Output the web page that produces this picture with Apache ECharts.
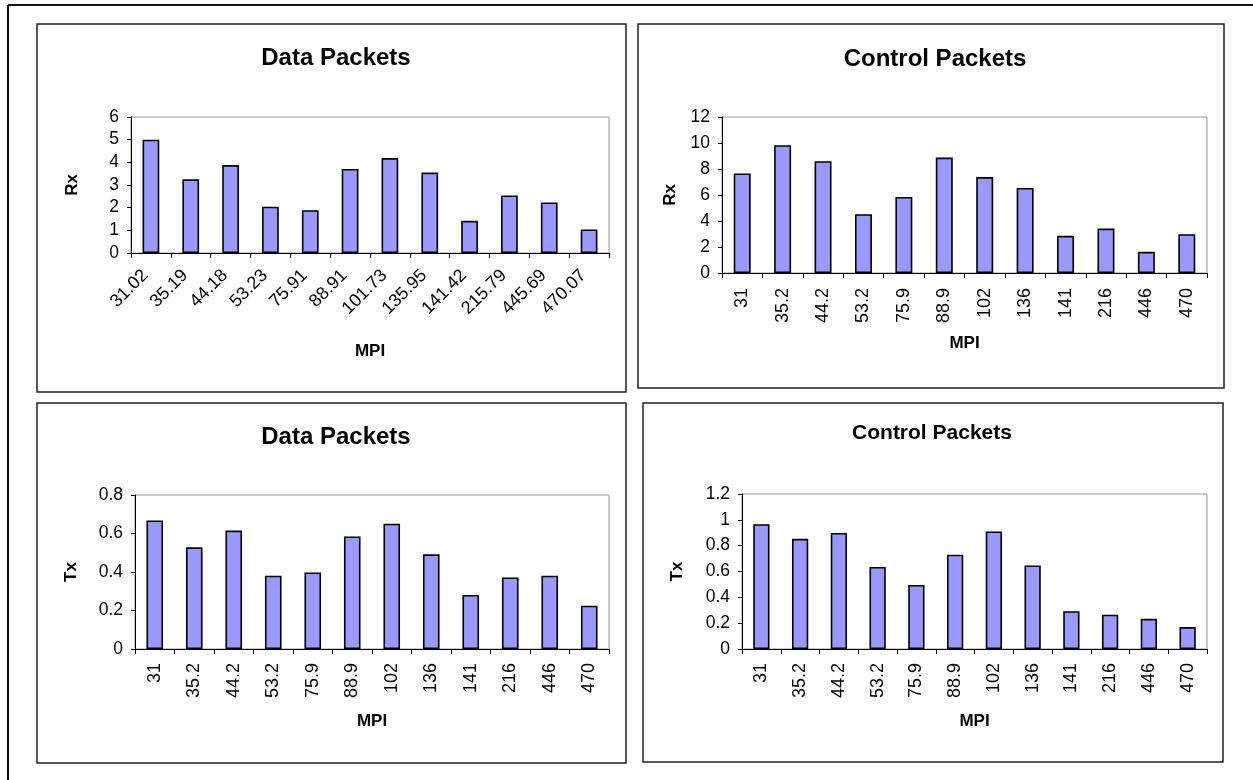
<!DOCTYPE html>
<html>
<head>
<meta charset="utf-8">
<title>Data and Control Packets vs MPI</title>
<script src="https://cdn.jsdelivr.net/npm/echarts@6/dist/echarts.min.js"></script>
<style>
  html, body { margin: 0; padding: 0; background: #ffffff; }
  #chart { width: 1253px; height: 780px; }
</style>
</head>
<body>
<div id="chart"></div>
<script>
// MPI categories: full precision on the Rx data chart, rounded elsewhere
const mpiFull  = ['31.02', '35.19', '44.18', '53.23', '75.91', '88.91', '101.73', '135.95', '141.42', '215.79', '445.69', '470.07'];
const mpiShort = ['31', '35.2', '44.2', '53.2', '75.9', '88.9', '102', '136', '141', '216', '446', '470'];

// Received (Rx) and transmitted (Tx) packets per MPI value
const dataRx    = [5.0, 3.25, 3.88, 2.04, 1.89, 3.71, 4.19, 3.55, 1.42, 2.54, 2.23, 1.04];
const controlRx = [7.66, 9.83, 8.60, 4.52, 5.85, 8.88, 7.38, 6.54, 2.86, 3.42, 1.63, 2.99];
const dataTx    = [0.668, 0.528, 0.615, 0.381, 0.398, 0.585, 0.651, 0.492, 0.281, 0.372, 0.381, 0.225];
const controlTx = [0.966, 0.853, 0.899, 0.635, 0.496, 0.730, 0.910, 0.647, 0.293, 0.265, 0.234, 0.170];

// Value axis ranges
const yMax      = [6, 12, 0.8, 1.2];
const yInterval = [1, 2, 0.2, 0.2];

const FONT = '"Liberation Sans", Arial, Helvetica, sans-serif';

// Layout of the four chart panels
const panels = [
  { title: 'Data Packets',    titleX: 331, titleY: 41, titleSize: 24, yName: 'Rx', cats: mpiFull,  values: dataRx,
    grid: { left: 131, top: 117, width: 478, height: 136 }, rotate: 45, xMargin: 14, xPad: [0, 8, 0, 0], xNameGap: 90, yNameGap: 50,
    box: [37, 24, 589, 368] },
  { title: 'Control Packets', titleX: 930, titleY: 42, titleSize: 24, yName: 'Rx', cats: mpiShort, values: controlRx,
    grid: { left: 722, top: 117, width: 485, height: 156 }, rotate: 90, xMargin: 15, xPad: 0, xNameGap: 62, yNameGap: 43,
    box: [638, 24, 586, 364] },
  { title: 'Data Packets',    titleX: 331, titleY: 420, titleSize: 24, yName: 'Tx', cats: mpiShort, values: dataTx,
    grid: { left: 135, top: 495, width: 474, height: 154 }, rotate: 90, xMargin: 14, xPad: 0, xNameGap: 64, yNameGap: 55,
    box: [37, 403, 589, 360] },
  { title: 'Control Packets', titleX: 927, titleY: 418, titleSize: 21, yName: 'Tx', cats: mpiShort, values: controlTx,
    grid: { left: 742, top: 494, width: 465, height: 155 }, rotate: 90, xMargin: 14, xPad: 0, xNameGap: 64, yNameGap: 56,
    box: [643, 403, 580, 359] }
];

const axisColor = '#000';
const labelStyle = { color: '#000', fontFamily: FONT };

const option = {
  animation: false,
  backgroundColor: '#ffffff',
  title: panels.map(p => ({
    text: p.title,
    left: p.titleX,
    top: p.titleY,
    textAlign: 'center',
    textStyle: { fontFamily: FONT, fontWeight: 'bold', fontSize: p.titleSize, color: '#000' }
  })),
  grid: panels.map(p => Object.assign({
    show: true,
    borderColor: '#999',
    borderWidth: 1,
    backgroundColor: 'transparent',
    containLabel: false
  }, p.grid)),
  xAxis: panels.map((p, i) => ({
    type: 'category',
    gridIndex: i,
    data: p.cats,
    name: 'MPI',
    nameLocation: 'middle',
    nameGap: p.xNameGap,
    nameTextStyle: { fontFamily: FONT, fontWeight: 'bold', fontSize: 17, color: '#000' },
    axisLine: { show: true, lineStyle: { color: axisColor, width: 1 } },
    axisTick: { show: true, alignWithLabel: false, length: 5, lineStyle: { color: axisColor } },
    axisLabel: Object.assign({ interval: 0, rotate: p.rotate, margin: p.xMargin, padding: p.xPad, fontSize: 18 }, labelStyle),
    splitLine: { show: false }
  })),
  yAxis: panels.map((p, i) => ({
    type: 'value',
    gridIndex: i,
    min: 0,
    max: yMax[i],
    interval: yInterval[i],
    name: p.yName,
    nameLocation: 'middle',
    nameGap: p.yNameGap,
    nameTextStyle: { fontFamily: FONT, fontWeight: 'bold', fontSize: 17, color: '#000' },
    axisLine: { show: true, lineStyle: { color: axisColor, width: 1 } },
    axisTick: { show: true, length: 4, lineStyle: { color: axisColor } },
    axisLabel: Object.assign({ margin: 12, fontSize: 17.5 }, labelStyle),
    splitLine: { show: false }
  })),
  series: panels.map((p, i) => ({
    type: 'bar',
    xAxisIndex: i,
    yAxisIndex: i,
    data: p.values,
    barWidth: '42%',
    itemStyle: { color: '#9999FF', borderColor: '#000', borderWidth: 1.6 }
  })),
  graphic: [
    // outer frame (left and top edges)
    { type: 'line', z: -10, shape: { x1: 8, y1: 5, x2: 8, y2: 780 }, style: { stroke: '#111', lineWidth: 2 } },
    { type: 'line', z: -10, shape: { x1: 8, y1: 5, x2: 1253, y2: 5 }, style: { stroke: '#111', lineWidth: 2 } }
  ].concat(panels.map(p => ({
    type: 'rect',
    z: -10,
    shape: { x: p.box[0], y: p.box[1], width: p.box[2], height: p.box[3] },
    style: { fill: 'none', stroke: '#222', lineWidth: 1.5 }
  })))
};

const chart = echarts.init(document.getElementById('chart'), null, { renderer: 'canvas' });
chart.setOption(option);
</script>
</body>
</html>
